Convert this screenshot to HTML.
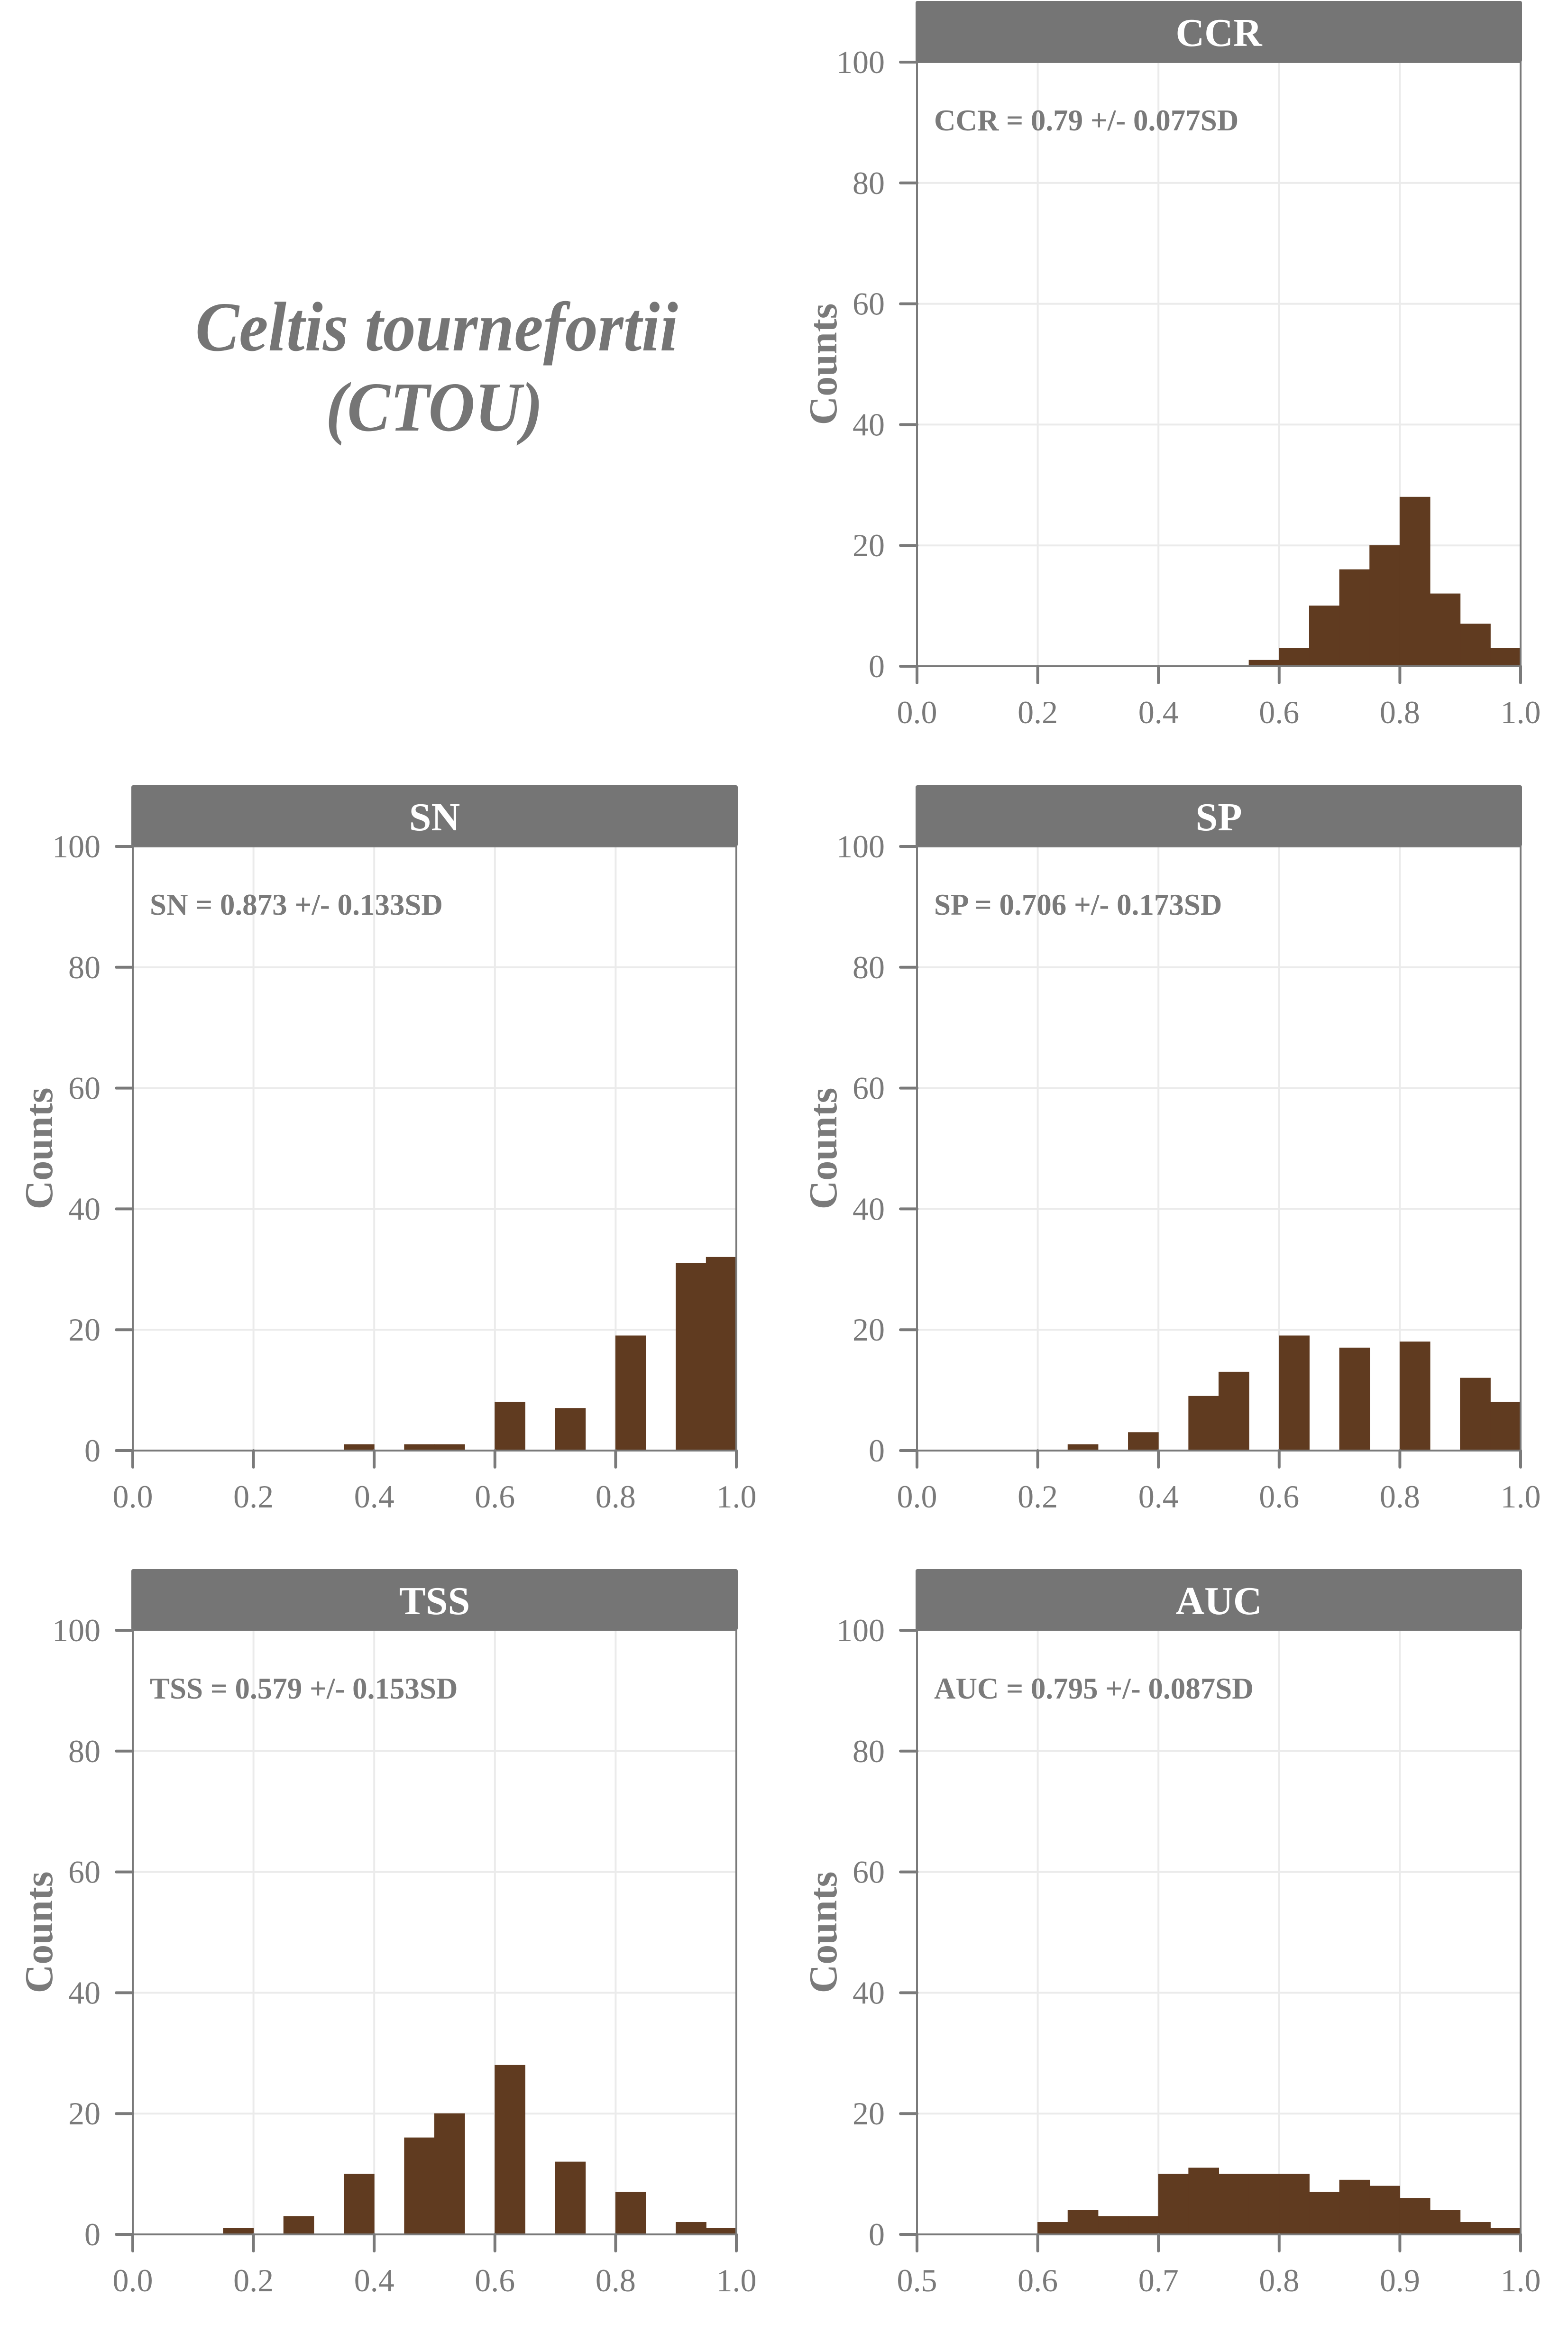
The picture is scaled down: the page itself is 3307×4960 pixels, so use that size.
<!DOCTYPE html>
<html><head><meta charset="utf-8"><style>
html,body{margin:0;padding:0;background:#fff;}
svg{display:block;}
</style></head><body>
<svg id="chart" width="3307" height="4960" viewBox="0 0 3307 4960" xmlns="http://www.w3.org/2000/svg" font-family="'Liberation Serif', serif">
<g fill="#757575" font-weight="bold" font-style="italic" text-anchor="middle" font-size="148">
<text x="921" y="739" textLength="1018" lengthAdjust="spacingAndGlyphs">Celtis tournefortii</text>
<text x="916" y="908" textLength="458" lengthAdjust="spacingAndGlyphs">(CTOU)</text>
</g>
</svg>
<script>
// Panel data
const panelNames = ["CCR","SN","SP","TSS","AUC"];
const annotations = ["CCR = 0.79 +/- 0.077SD","SN = 0.873 +/- 0.133SD","SP = 0.706 +/- 0.173SD","TSS = 0.579 +/- 0.153SD","AUC = 0.795 +/- 0.087SD"];
const binStartsCCR = [0.55,0.60,0.65,0.70,0.75,0.80,0.85,0.90,0.95];
const countsCCR = [1,3,10,16,20,28,12,7,3];
const binStartsSN = [0.35,0.45,0.50,0.60,0.70,0.80,0.90,0.95];
const countsSN = [1,1,1,8,7,19,31,32];
const binStartsSP = [0.25,0.35,0.45,0.50,0.60,0.70,0.80,0.90,0.95];
const countsSP = [1,3,9,13,19,17,18,12,8];
const binStartsTSS = [0.15,0.25,0.35,0.45,0.50,0.60,0.70,0.80,0.90,0.95];
const countsTSS = [1,3,10,16,20,28,12,7,2,1];
const binStartsAUC = [0.6,0.625,0.65,0.675,0.7,0.725,0.75,0.775,0.8,0.825,0.85,0.875,0.9,0.925,0.95,0.975];
const countsAUC = [2,4,3,3,10,11,10,10,10,7,9,8,6,4,2,1];
const binWidths = [0.05,0.05,0.05,0.05,0.025];
const xTicksStd = [0,0.2,0.4,0.6,0.8,1.0];
const xTickLabelsStd = ["0.0","0.2","0.4","0.6","0.8","1.0"];
const xTicksAUC = [0.5,0.6,0.7,0.8,0.9,1.0];
const xTickLabelsAUC = ["0.5","0.6","0.7","0.8","0.9","1.0"];
const yTicks = [0,20,40,60,80,100];
const yTickLabels = ["0","20","40","60","80","100"];

const NS = "http://www.w3.org/2000/svg";
const svg = document.getElementById("chart");
function mk(tag, attrs, parent){const e=document.createElementNS(NS,tag);for(const k in attrs)e.setAttribute(k,attrs[k]);(parent||svg).appendChild(e);return e;}

const W = 1273, H = 1274;
const layout = [[1934,1405],[280,3059],[1934,3059],[280,4712],[1934,4712]];
const bins = [binStartsCCR,binStartsSN,binStartsSP,binStartsTSS,binStartsAUC];
const counts = [countsCCR,countsSN,countsSP,countsTSS,countsAUC];
const GREY = "#7a7a7a";

panelNames.forEach((name,p)=>{
  const x0 = layout[p][0], y0 = layout[p][1], yTop = y0 - H;
  const isAUC = name === "AUC";
  const xmin = isAUC ? 0.5 : 0, xmax = 1;
  const xs = v => x0 + (v - xmin)/(xmax - xmin)*W;
  const ys = v => y0 - v/100*H;
  const g = mk("g",{});
  
  
  const xt = isAUC ? xTicksAUC : xTicksStd;
  const xtl = isAUC ? xTickLabelsAUC : xTickLabelsStd;
  yTicks.forEach(t=>{
    const l = mk("line",{x1:x0,x2:x0+W,y1:ys(t),y2:ys(t),stroke:"#ebebeb","stroke-width":4},g);
    
    
  });
  xt.forEach(t=>{
    const l = mk("line",{x1:xs(t),x2:xs(t),y1:yTop,y2:y0,stroke:"#ebebeb","stroke-width":4},g);
    
    
  });
  const bw = binWidths[p];
  bins[p].forEach((b,i)=>{
    const r = mk("rect",{x:xs(b),y:ys(counts[p][i]),width:xs(b+bw)-xs(b),height:y0-ys(counts[p][i]),fill:"#603b20",stroke:"#603b20","stroke-width":1},g);
    
    
  });
  const bd = mk("rect",{x:x0,y:yTop,width:W,height:H,fill:"none",stroke:GREY,"stroke-width":4},g);
  
  
  const st = mk("rect",{x:x0-3,y:yTop-129,width:W+6,height:129,rx:4,fill:"#757575"},g);
  
  
  const stt = mk("text",{x:x0+W/2,y:yTop-34,fill:"#fff","font-size":84,"font-weight":"bold","text-anchor":"middle"},g);
  stt.textContent = name;
  
  
  const an = mk("text",{x:x0+36,y:yTop+144,fill:GREY,"font-size":63,"font-weight":"bold"},g);
  an.textContent = annotations[p];
  
  
  yTicks.forEach((t,i)=>{
    const tk = mk("line",{x1:x0-35,x2:x0,y1:ys(t),y2:ys(t),stroke:GREY,"stroke-width":6,"stroke-linecap":"round"},g);
    
    
    const lb = mk("text",{x:x0-68,y:ys(t)+23,fill:GREY,"font-size":68,"text-anchor":"end"},g);
    lb.textContent = yTickLabels[i];
    
    
  });
  xt.forEach((t,i)=>{
    const tk = mk("line",{x1:xs(t),x2:xs(t),y1:y0,y2:y0+35,stroke:GREY,"stroke-width":6,"stroke-linecap":"round"},g);
    
    
    const lb = mk("text",{x:xs(t),y:y0+120,fill:GREY,"font-size":68,"text-anchor":"middle"},g);
    lb.textContent = xtl[i];
    
    
  });
  const cy = (yTop + y0)/2, cx = x0 - 170;
  const yt = mk("text",{x:cx,y:cy,fill:GREY,"font-size":84,"font-weight":"bold","text-anchor":"middle",transform:`rotate(-90 ${cx} ${cy})`},g);
  yt.textContent = "Counts";
  
  
});
</script>
</body></html>
